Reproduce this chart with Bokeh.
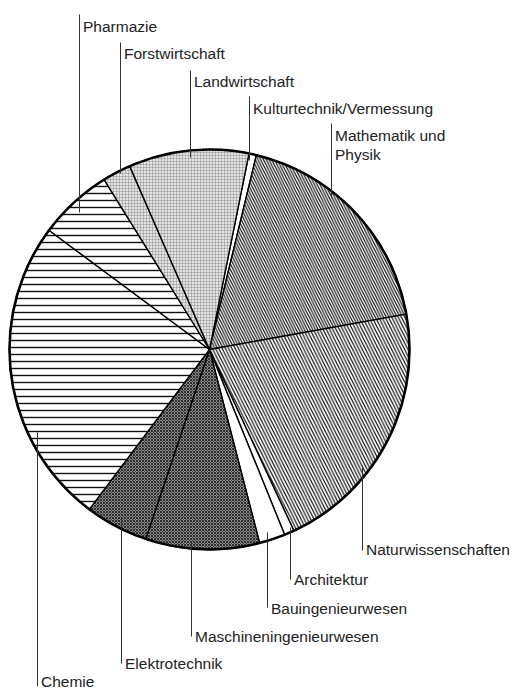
import math
from bokeh.plotting import figure
from bokeh.models import Range1d, ColumnDataSource
from bokeh.embed import file_html
from bokeh.resources import INLINE
from bokeh.core.properties import value

# ---- data (share of total, %), clockwise from the top ----
categories = ["Kulturtechnik/Vermessung", "Mathematik und Physik", "Naturwissenschaften",
              "Architektur", "Bauingenieurwesen", "Maschineningenieurwesen", "Elektrotechnik",
              "Chemie", "Pharmazie", "Forstwirtschaft", "Landwirtschaft"]
shares = [0.6, 18.4, 20.9, 0.8, 2.1, 9.2, 5.1, 24.9, 6.0, 2.3, 9.7]

# ---- styling per wedge ----
fills = ["white", "white", "white", "white", "white", "#8a8a8a", "#8a8a8a",
         "white", "white", "#e4e4e4", "#e4e4e4"]
hatches = ["blank", "\\", "\\", "blank", "blank", "x", "x", "-", "-", "+", "+"]
hatch_scales = [6, 5.5, 6.5, 6, 6, 3.0, 3.0, 7, 7, 3.0, 3.0]
hatch_weights = [1, 1.2, 1.2, 1, 1, 0.9, 0.9, 1.4, 1.4, 0.5, 0.5]
hatch_colors = ["black", "#111", "#111", "black", "black", "#222", "#222",
                "#111", "#111", "#8c8c8c", "#8c8c8c"]

# ---- layout (image pixel coordinates, y downward) ----
W_IMG, H_IMG = 513, 692
CX, CY, R = 209, 349, 200
START_DEG = 11.4          # first wedge starts this far clockwise from 12 o'clock
# leader x, leader outer end y, leader inner end y, text baseline y
label_layout = {
    "Pharmazie":                (79, 14, 212, 26),
    "Forstwirtschaft":          (120, 42, 173, 53),
    "Landwirtschaft":           (190, 70, 157, 81),
    "Kulturtechnik/Vermessung": (249, 96, 160, 108),
    "Mathematik und Physik":    (331, 123, 198, 135),
    "Naturwissenschaften":      (362, 550, 465, 549),
    "Architektur":              (290, 579, 527, 579),
    "Bauingenieurwesen":        (267, 607, 532, 608),
    "Maschineningenieurwesen":  (191, 636, 542, 636),
    "Elektrotechnik":           (121, 663, 518, 663),
    "Chemie":                   (37, 686, 432, 681),
}
label_lines = {"Mathematik und Physik": ["Mathematik und", "Physik"]}


def iy(y):
    return H_IMG - y


total = sum(shares)
starts, ends = [], []
acc = START_DEG
for s in shares:
    a0 = acc
    a1 = acc + 360.0 * s / total
    # Bokeh: counter-clockwise from +x ; ours: clockwise from top
    starts.append(math.radians(90 - a0))
    ends.append(math.radians(90 - a1))
    acc = a1

p = figure(width=W_IMG, height=H_IMG, output_backend="svg", toolbar_location=None,
           x_range=Range1d(0, W_IMG), y_range=Range1d(0, H_IMG), min_border=0)
p.axis.visible = False
p.grid.visible = False
p.outline_line_color = None
p.background_fill_color = "white"
p.border_fill_color = "white"

src = ColumnDataSource(dict(start=starts, end=ends, fill=fills, hatch=hatches,
                            hscale=hatch_scales, hweight=hatch_weights, hcolor=hatch_colors,
                            cat=categories))
p.wedge(x=CX, y=iy(CY), radius=R, start_angle="start", end_angle="end",
        direction="clock", source=src, fill_color="fill", hatch_pattern="hatch",
        hatch_scale="hscale", hatch_weight="hweight", hatch_color="hcolor",
        line_color="black", line_width=1.4)
p.circle(x=[CX], y=[iy(CY)], radius=R, fill_alpha=0, line_color="black", line_width=2.6)

# leaders and labels
sx0, sy0, sx1, sy1 = [], [], [], []
tx, ty, tt = [], [], []
for cat in categories:
    lx, y_out, y_in, yb = label_layout[cat]
    sx0.append(lx); sx1.append(lx)
    sy0.append(iy(y_out)); sy1.append(iy(y_in))
    lines = label_lines.get(cat, [cat])
    for k, line in enumerate(lines):
        tx.append(lx + 3.5)
        ty.append(iy(yb + 19 * k))
        tt.append(line)

p.segment(x0=sx0, y0=sy0, x1=sx1, y1=sy1, line_color="#333", line_width=1)
p.text(x=tx, y=ty, text=tt, text_font=value("Liberation Sans"), text_font_size="15.5px",
       text_color="#222", text_baseline="alphabetic", text_align="left")

open("out.html", "w").write(file_html(p, INLINE))
